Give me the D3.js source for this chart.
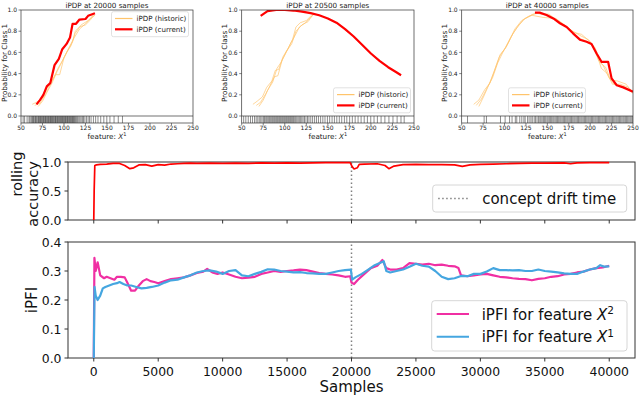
<!DOCTYPE html>
<html><head><meta charset="utf-8">
<script src="https://cdn.jsdelivr.net/npm/d3@7"></script>
<style>body{margin:0;background:#fff}svg{display:block}text{font-family:"DejaVu Sans",sans-serif}</style>
</head><body>
<svg id="c" width="640" height="397"></svg>
<script>
// ---------------- DATA ----------------
const sampleTicks = [0,5000,10000,15000,20000,25000,30000,35000,40000];
const accTicks = [0.0,0.5,1.0];
const pfiTicks = [0.0,0.1,0.2,0.3,0.4];
const featTicks = [50,75,100,125,150,175,200,225,250];
const probTicks = [0.0,0.2,0.4,0.6,0.8,1.0];
const driftTime = 20000;

const accSamples = [0,30,80,200,500,1000,1500,2000,2400,2800,3100,3500,4000,4500,5000,5500,6000,6500,7000,7500,8000,9000,10000,11000,12000,13000,14000,15000,16000,17000,18000,19000,19900,20050,20200,20450,20600,21000,22000,22600,22900,23300,24000,25000,26000,27000,28000,28600,29200,30000,31000,32000,33000,34000,35000,36500,37000,37500,38500,40000];
const accValues = [0,0.5,0.94,0.95,0.96,0.965,0.975,0.975,0.94,0.885,0.9,0.95,0.955,0.93,0.955,0.945,0.965,0.97,0.975,0.98,0.975,0.98,0.975,0.98,0.975,0.985,0.98,0.985,0.98,0.985,0.99,0.99,0.99,0.92,0.88,0.9,0.96,0.965,0.97,0.94,0.885,0.93,0.955,0.96,0.955,0.955,0.95,0.925,0.95,0.96,0.965,0.97,0.975,0.98,0.98,0.985,0.97,0.985,0.99,0.99];

const pfiX2Samples = [0,50,150,300,500,800,1000,1300,1600,1800,2100,2400,2600,2900,3200,3500,3800,4100,4400,4700,5000,5500,6000,6500,7000,7500,8000,8500,8800,9200,9600,10000,10500,11000,11500,12000,12500,13000,13500,14000,14500,15000,15500,16000,16500,17000,17500,18000,18500,19000,19500,19900,20000,20200,20500,21000,21500,22000,22400,22700,23000,23500,24000,24500,25000,25500,26000,26500,27000,27500,28000,28300,28500,29000,29500,30000,30500,31000,31500,32000,32500,33000,33500,34000,34500,35000,35500,36000,36500,37000,37500,38000,38500,39000,39500,40000];
const pfiX2Values = [0,0.345,0.30,0.33,0.285,0.275,0.28,0.275,0.27,0.28,0.28,0.278,0.26,0.232,0.232,0.25,0.265,0.272,0.265,0.262,0.258,0.265,0.272,0.275,0.278,0.285,0.293,0.298,0.307,0.295,0.29,0.295,0.288,0.28,0.275,0.277,0.28,0.29,0.295,0.30,0.297,0.30,0.302,0.305,0.303,0.298,0.293,0.29,0.288,0.285,0.28,0.282,0.26,0.255,0.27,0.29,0.31,0.318,0.338,0.31,0.305,0.305,0.31,0.327,0.325,0.322,0.325,0.32,0.322,0.318,0.316,0.31,0.285,0.282,0.285,0.288,0.29,0.285,0.28,0.278,0.275,0.273,0.272,0.268,0.273,0.275,0.28,0.282,0.288,0.29,0.295,0.298,0.305,0.31,0.312,0.318];

const pfiX1Samples = [0,60,150,300,500,700,900,1200,1500,1800,2000,2300,2600,2900,3300,3700,4100,4500,5000,5500,6000,6500,7000,7500,8000,8500,9000,9500,10000,10500,11000,11500,12000,12500,13000,13500,14000,14500,15000,15500,16000,16500,17000,17500,18000,18500,19000,19500,19950,20050,20300,20800,21300,21800,22200,22500,22700,23000,23500,24000,24500,25000,25500,26000,26500,27000,27500,28000,28500,29000,29500,30000,30500,31000,31500,32000,32500,33000,33500,34000,34500,35000,35500,36000,36500,37000,37500,38000,38500,39000,39300,39600,40000];
const pfiX1Values = [0,0.245,0.215,0.20,0.215,0.24,0.245,0.25,0.255,0.258,0.262,0.255,0.25,0.25,0.245,0.24,0.242,0.245,0.25,0.26,0.268,0.27,0.278,0.285,0.295,0.30,0.302,0.298,0.29,0.30,0.303,0.285,0.282,0.29,0.297,0.306,0.305,0.30,0.298,0.295,0.296,0.293,0.292,0.29,0.29,0.295,0.30,0.303,0.305,0.27,0.278,0.29,0.305,0.32,0.328,0.334,0.30,0.295,0.30,0.305,0.315,0.325,0.318,0.315,0.30,0.28,0.272,0.275,0.283,0.282,0.29,0.29,0.298,0.31,0.303,0.303,0.302,0.303,0.30,0.30,0.305,0.30,0.298,0.295,0.292,0.29,0.29,0.298,0.305,0.31,0.32,0.315,0.316];

// iPDP panels: [feature value, probability]
const hist20000A = [[63,0.11],[68,0.13],[75,0.17],[80,0.26],[85,0.32],[90,0.39],[95,0.39],[100,0.55],[105,0.63],[110,0.70],[113,0.80],[118,0.84],[125,0.86],[130,0.90],[135,0.95]];
const hist20000B = [[66,0.10],[72,0.12],[78,0.20],[83,0.28],[88,0.36],[93,0.45],[98,0.52],[103,0.60],[108,0.66],[113,0.78],[120,0.86],[128,0.90],[135,0.96]];
const hist20000C = [[70,0.09],[75,0.14],[80,0.22],[86,0.31],[92,0.42],[97,0.50],[102,0.58],[108,0.68],[112,0.74],[118,0.82],[125,0.87],[132,0.93],[136,0.95]];
const cur20000 = [[68,0.11],[72,0.15],[76,0.20],[80,0.28],[84,0.31],[89,0.48],[94,0.54],[98,0.63],[103,0.68],[107,0.74],[110,0.87],[114,0.87],[118,0.91],[125,0.915],[128,0.945],[136,0.97]];

const hist20500A = [[63,0.11],[68,0.14],[74,0.18],[79,0.27],[85,0.33],[89,0.43],[93,0.44],[98,0.56],[104,0.64],[109,0.72],[113,0.84],[118,0.88],[125,0.90],[131,0.95]];
const hist20500B = [[67,0.10],[72,0.13],[78,0.21],[83,0.29],[88,0.37],[92,0.38],[97,0.53],[102,0.61],[108,0.68],[113,0.80],[120,0.86],[127,0.89],[133,0.96]];
const hist20500C = [[70,0.09],[75,0.15],[80,0.24],[86,0.32],[91,0.45],[96,0.51],[101,0.59],[107,0.69],[112,0.76],[117,0.84],[124,0.88],[130,0.93],[134,0.96]];
const cur20500 = [[72,0.945],[80,0.99],[90,1.0],[100,1.0],[110,0.995],[120,0.985],[130,0.97],[140,0.95],[150,0.92],[160,0.88],[170,0.82],[180,0.75],[190,0.67],[200,0.59],[210,0.52],[220,0.46],[230,0.41],[235,0.385]];

const hist40000A = [[64,0.11],[70,0.15],[77,0.25],[83,0.31],[90,0.47],[95,0.58],[102,0.65],[110,0.78],[117,0.86],[122,0.91],[132,0.95],[145,0.93],[160,0.92],[170,0.86],[180,0.79],[190,0.77],[200,0.70],[207,0.60],[213,0.45],[220,0.40],[226,0.30],[235,0.30],[245,0.27],[250,0.22]];
const hist40000B = [[67,0.10],[73,0.16],[80,0.27],[86,0.36],[92,0.50],[98,0.60],[105,0.70],[112,0.82],[120,0.90],[128,0.94],[137,0.97],[150,0.95],[162,0.90],[175,0.83],[185,0.74],[195,0.71],[203,0.66],[210,0.52],[215,0.48],[222,0.36],[228,0.30],[238,0.28],[250,0.23]];
const hist40000C = [[70,0.09],[76,0.19],[82,0.30],[88,0.42],[94,0.56],[100,0.63],[107,0.74],[115,0.84],[124,0.92],[133,0.96],[140,0.97],[152,0.96],[165,0.88],[178,0.81],[188,0.76],[198,0.72],[206,0.64],[212,0.50],[218,0.46],[224,0.34],[232,0.33],[242,0.30],[250,0.21]];
const cur40000 = [[135.5,0.975],[141,0.975],[149,0.953],[157,0.92],[164.7,0.875],[172.5,0.84],[180,0.78],[188,0.72],[195.8,0.70],[201.6,0.68],[207.5,0.59],[213.4,0.51],[221,0.51],[225,0.355],[231,0.29],[238.6,0.27],[250,0.23]];

const rug20000 = [52.5,54.2,57.1,59.3,60.4,61.8,62.9,63.7,64.6,65.5,66.8,67.4,68.3,69.6,70.2,71.1,71.9,72.8,73.5,74.4,75.3,76.1,76.9,77.8,78.5,79.4,80.3,81.2,81.8,82.7,83.6,84.3,85.2,85.9,86.8,87.5,88.4,89.3,90.1,90.8,91.7,92.6,93.2,94.1,95.0,95.8,96.7,97.4,98.3,99.1,99.9,100.8,101.6,102.3,103.2,104.1,104.8,105.7,106.6,107.3,108.2,109.0,109.9,110.8,111.5,112.4,113.3,114.6,115.8,117.2,118.5,119.9,121.4,122.7,124.3,126.1,128.0,129.6,131.5,134.2,136.8,139.5,142.7,146.3,149.8,153.4,158.2,163.1,168.0];
const rug20500 = [52.3,54.8,57.6,60.2,62.5,64.9,66.8,68.7,70.4,72.1,73.6,75.2,76.5,77.9,79.1,80.4,81.6,82.7,83.9,85.1,86.2,87.4,88.5,89.7,90.8,91.9,93.1,94.2,95.3,96.5,97.6,98.8,99.9,101.1,102.2,103.4,104.5,105.7,106.8,108.0,109.2,110.3,111.6,112.8,114.1,115.5,116.9,118.4,119.8,121.3,122.9,124.6,126.4,128.1,130.2,132.3,134.6,136.8,139.1,141.6,144.2,146.7,149.5,152.1,154.9,157.6,160.4,163.3,166.1,169.2,172.0,175.3,178.4,181.7,185.1,188.6,192.2,195.9,199.8,203.6,207.5,211.8,216.2,220.9,225.6,230.4,234.9,238.6];
const rug40000 = [56.8,76.2,78.9,95.3,100.7,105.9,108.8,112.6,114.3,117.8,120.2,122.6,124.1,126.9,128.7,130.8,132.4,134.6,136.1,137.9,139.6,141.2,142.5,143.9,145.4,146.8,148.1,149.6,150.9,152.3,153.6,155.0,156.4,157.7,159.1,160.5,161.8,163.2,164.6,165.9,167.3,168.7,170.0,171.4,172.8,174.1,175.5,176.9,178.2,179.6,181.0,182.3,183.7,185.1,186.4,187.8,189.2,190.5,191.9,193.3,194.6,196.0,197.4,198.7,200.1,201.5,202.8,204.2,205.6,206.9,208.3,209.7,211.0,212.4,213.8,215.1,216.5,217.9,219.2,220.6,222.0,223.3,224.7,226.1,227.4,228.8,230.2,231.5,232.9,234.3,235.6,237.0,238.4,239.7,241.1,242.5,243.8,245.2,246.6,247.9,249.3];

const colHist = "#ffc46b", colCur = "#ff0000", colX2 = "#f02fa3", colX1 = "#45a6e0";

// ---------------- DRAW ----------------
const svg = d3.select("#c");
const spineCol = "#333";

function supLabel(sel, base, sup, size){
  sel.append("tspan").text(base);
  sel.append("tspan").attr("font-style","italic").text("X");
  sel.append("tspan").attr("font-size", size*0.7).attr("dy", -size*0.38).text(sup);
}

// ---------- top iPDP panels ----------
function pdpPanel(x0, x1, title, hists, cur, rug, leg){
  const yTop = 10, y0 = 116, yBot = 123;
  const xs = d3.scaleLinear().domain([50,250]).range([x0,x1]);
  const ys = d3.scaleLinear().domain([0,1]).range([y0,yTop]);
  const g = svg.append("g");
  const cid = "clip"+Math.round(x0);
  svg.append("clipPath").attr("id",cid).append("rect").attr("x",x0).attr("y",yTop).attr("width",x1-x0).attr("height",y0-yTop);
  g.append("g").selectAll("line").data(rug).join("line")
    .attr("x1",d=>xs(d)).attr("x2",d=>xs(d)).attr("y1",y0).attr("y2",yBot)
    .attr("stroke","#000").attr("stroke-opacity",0.5).attr("stroke-width",0.9);
  const line = d3.line().x(d=>xs(d[0])).y(d=>ys(d[1]));
  const lg = g.append("g").attr("clip-path",`url(#${cid})`);
  hists.forEach(h=>lg.append("path").attr("d",line(h)).attr("fill","none").attr("stroke",colHist).attr("stroke-width",0.9).attr("stroke-opacity",0.75));
  lg.append("path").attr("d",line(cur)).attr("fill","none").attr("stroke",colCur).attr("stroke-width",2.2).attr("stroke-linejoin","round");
  g.append("rect").attr("x",x0).attr("y",yTop).attr("width",x1-x0).attr("height",yBot-yTop).attr("fill","none").attr("stroke",spineCol).attr("stroke-width",0.7);
  g.append("line").attr("x1",x0).attr("x2",x1).attr("y1",y0).attr("y2",y0).attr("stroke",spineCol).attr("stroke-width",0.7);
  featTicks.forEach(t=>{
    g.append("line").attr("x1",xs(t)).attr("x2",xs(t)).attr("y1",yBot).attr("y2",yBot+2.5).attr("stroke",spineCol).attr("stroke-width",0.6);
    g.append("text").attr("x",xs(t)).attr("y",130).attr("text-anchor","middle").attr("font-size",6).attr("fill","#222").text(t);
  });
  probTicks.forEach(t=>{
    g.append("line").attr("x1",x0-2.5).attr("x2",x0).attr("y1",ys(t)).attr("y2",ys(t)).attr("stroke",spineCol).attr("stroke-width",0.6);
    g.append("text").attr("x",x0-4).attr("y",ys(t)+2.1).attr("text-anchor","end").attr("font-size",6).attr("fill","#222").text(t.toFixed(1));
  });
  g.append("text").attr("x",(x0+x1)/2).attr("y",7.5).attr("text-anchor","middle").attr("font-size",7.2).attr("fill","#222").text(title);
  const xl = g.append("text").attr("x",(x0+x1)/2).attr("y",138.5).attr("text-anchor","middle").attr("font-size",7.2).attr("fill","#222");
  supLabel(xl,"feature: ","1",7.2);
  g.append("text").attr("transform",`translate(${x0-14.5},${(yTop+y0)/2}) rotate(-90)`).attr("text-anchor","middle").attr("font-size",7.2).attr("fill","#222").text("Probability for Class 1");
  const L = g.append("g").attr("transform",`translate(${leg[0]},${leg[1]})`);
  L.append("rect").attr("width",77).attr("height",25).attr("rx",2).attr("fill","#fff").attr("fill-opacity",0.8).attr("stroke","#ccc").attr("stroke-width",0.6);
  L.append("line").attr("x1",3.5).attr("x2",21).attr("y1",6.8).attr("y2",6.8).attr("stroke",colHist).attr("stroke-width",1.2);
  L.append("line").attr("x1",3.5).attr("x2",21).attr("y1",17.6).attr("y2",17.6).attr("stroke",colCur).attr("stroke-width",2.2);
  L.append("text").attr("x",25).attr("y",9.3).attr("font-size",7.1).attr("fill","#222").text("iPDP (historic)");
  L.append("text").attr("x",25).attr("y",20.1).attr("font-size",7.1).attr("fill","#222").text("iPDP (current)");
}
pdpPanel(21,193,"iPDP at 20000 samples",[hist20000A,hist20000B,hist20000C],cur20000,rug20000,[111.5,11.7]);
pdpPanel(241.7,414,"iPDP at 20500 samples",[hist20500A,hist20500B,hist20500C],cur20500,rug20500,[333.5,87.8]);
pdpPanel(461.7,633,"iPDP at 40000 samples",[hist40000A,hist40000B,hist40000C],cur40000,rug40000,[508.5,87.8]);

// ---------- main panels ----------
const mx0 = 68, mx1 = 635;
const xS = d3.scaleLinear().domain([-2000,42000]).range([mx0,mx1]);
const yAcc = d3.scaleLinear().domain([0,1]).range([220,162]);
const yPfi = d3.scaleLinear().domain([0,0.4]).range([358,242]);

function mainFrame(ys, ticks, showX){
  const [yb, yt] = ys.range();
  const g = svg.append("g");
  g.append("line").attr("x1",xS(driftTime)).attr("x2",xS(driftTime)).attr("y1",yb).attr("y2",yt)
    .attr("stroke","#808080").attr("stroke-width",1.5).attr("stroke-dasharray","1.5,2.5");
  g.append("rect").attr("x",mx0).attr("y",yt).attr("width",mx1-mx0).attr("height",yb-yt).attr("fill","none").attr("stroke",spineCol).attr("stroke-width",1);
  sampleTicks.forEach(t=>{
    g.append("line").attr("x1",xS(t)).attr("x2",xS(t)).attr("y1",yb).attr("y2",yb+3.5).attr("stroke",spineCol).attr("stroke-width",1);
    if(showX) g.append("text").attr("x",xS(t)).attr("y",376).attr("text-anchor","middle").attr("font-size",12.4).attr("fill","#111").text(t);
  });
  ticks.forEach(t=>{
    g.append("line").attr("x1",mx0-3.5).attr("x2",mx0).attr("y1",ys(t)).attr("y2",ys(t)).attr("stroke",spineCol).attr("stroke-width",1);
    g.append("text").attr("x",mx0-6.5).attr("y",ys(t)+4.5).attr("text-anchor","end").attr("font-size",12.4).attr("fill","#111").text(t.toFixed(1));
  });
  return g;
}
const gAcc = mainFrame(yAcc, accTicks, false);
const gPfi = mainFrame(yPfi, pfiTicks, true);

const accLine = d3.line().x((d,i)=>xS(accSamples[i])).y(d=>yAcc(d));
gAcc.append("path").attr("d",accLine(accValues)).attr("fill","none").attr("stroke",colCur).attr("stroke-width",1.7).attr("stroke-linejoin","round");

const l2 = d3.line().x((d,i)=>xS(pfiX2Samples[i])).y(d=>yPfi(d));
const l1 = d3.line().x((d,i)=>xS(pfiX1Samples[i])).y(d=>yPfi(d));
gPfi.append("path").attr("d",l2(pfiX2Values)).attr("fill","none").attr("stroke",colX2).attr("stroke-width",2.2).attr("stroke-linejoin","round");
gPfi.append("path").attr("d",l1(pfiX1Values)).attr("fill","none").attr("stroke",colX1).attr("stroke-width",2.2).attr("stroke-linejoin","round");

svg.append("text").attr("x",(mx0+mx1)/2).attr("y",392).attr("text-anchor","middle").attr("font-size",15).attr("fill","#111").text("Samples");
svg.append("text").attr("transform",`translate(36.5,300) rotate(-90)`).attr("text-anchor","middle").attr("font-size",15).attr("fill","#111").text("iPFI");
svg.append("text").attr("transform",`translate(22,174) rotate(-90)`).attr("text-anchor","middle").attr("font-size",14.5).attr("fill","#111").text("rolling");
svg.append("text").attr("transform",`translate(38,194) rotate(-90)`).attr("text-anchor","middle").attr("font-size",14.5).attr("fill","#111").text("accuracy");

const L1 = svg.append("g").attr("transform","translate(432.7,185)");
L1.append("rect").attr("width",194).attr("height",27).attr("rx",3).attr("fill","#fff").attr("fill-opacity",0.8).attr("stroke","#ccc").attr("stroke-width",0.8);
L1.append("line").attr("x1",5.5).attr("x2",35.5).attr("y1",13.5).attr("y2",13.5).attr("stroke","#808080").attr("stroke-width",1.5).attr("stroke-dasharray","1.5,2.5");
L1.append("text").attr("x",49.5).attr("y",19).attr("font-size",15).attr("fill","#111").text("concept drift time");

const L2 = svg.append("g").attr("transform","translate(431.7,300.7)");
L2.append("rect").attr("width",195.3).attr("height",50.3).attr("rx",3).attr("fill","#fff").attr("fill-opacity",0.8).attr("stroke","#ccc").attr("stroke-width",0.8);
L2.append("line").attr("x1",5).attr("x2",37.3).attr("y1",13.3).attr("y2",13.3).attr("stroke",colX2).attr("stroke-width",2);
L2.append("line").attr("x1",5).attr("x2",37.3).attr("y1",36).attr("y2",36).attr("stroke",colX1).attr("stroke-width",2);
const t2 = L2.append("text").attr("x",50).attr("y",19).attr("font-size",15).attr("fill","#111");
supLabel(t2,"iPFI for feature ","2",15);
const t1 = L2.append("text").attr("x",50).attr("y",41.7).attr("font-size",15).attr("fill","#111");
supLabel(t1,"iPFI for feature ","1",15);
</script>
</body></html>
